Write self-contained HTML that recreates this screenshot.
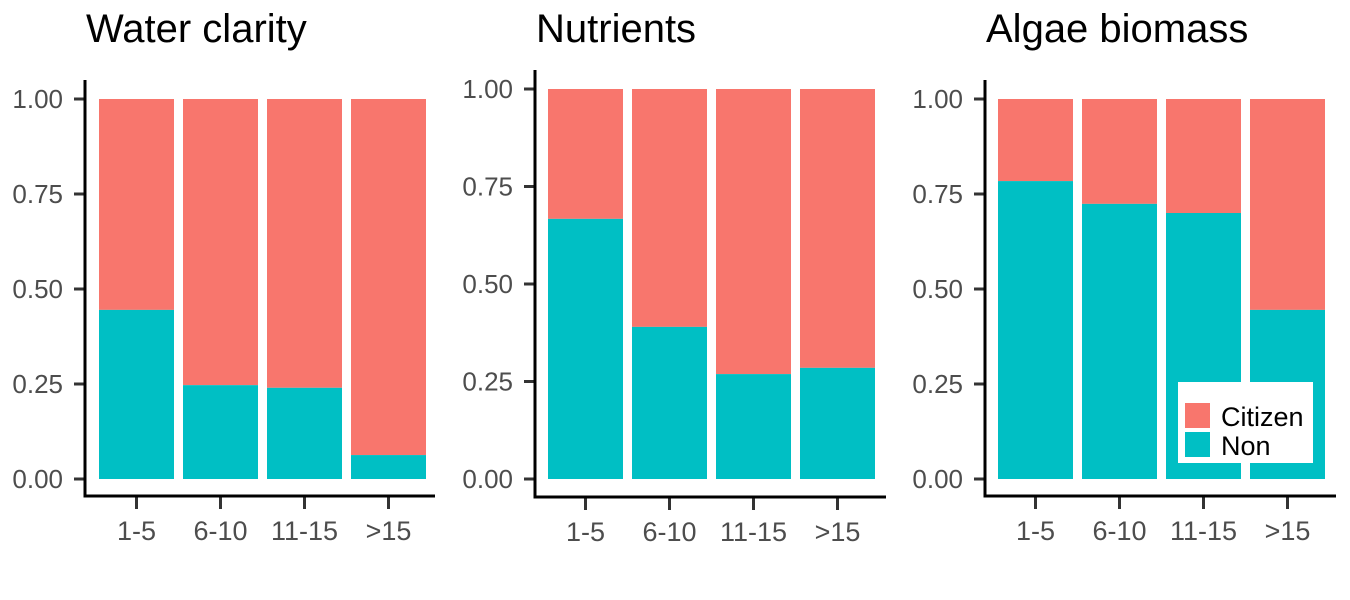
<!DOCTYPE html>
<html><head><meta charset="utf-8"><style>body{margin:0;background:#fff}svg{display:block}text{font-family:"Liberation Sans",sans-serif}</style></head>
<body>
<svg id="c" width="1350" height="600"></svg>
<script>
const categories = ["1-5","6-10","11-15",">15"];
const titles = ["Water clarity","Nutrients","Algae biomass"];
const nonWater = [0.445,0.247,0.240,0.063];
const nonNutrients = [0.667,0.390,0.269,0.285];
const nonAlgae = [0.784,0.724,0.700,0.445];
const yTicks = [0,0.25,0.5,0.75,1];
const yTickLabels = ["0.00","0.25","0.50","0.75","1.00"];
const NS="http://www.w3.org/2000/svg";
const svg=document.getElementById('c');
function el(t,a,p){const e=document.createElementNS(NS,t);for(const k in a)e.setAttribute(k,a[k]);(p||svg).appendChild(e);return e;}
const panels=[
 {vals:nonWater,ax:85,x0:99,y0:479,y1:99,axTop:80,axBot:496,xEnd:435,ty:42,tx:86},
 {vals:nonNutrients,ax:535,x0:548,y0:479,y1:89,axTop:70,axBot:497,xEnd:886,ty:42,tx:536},
 {vals:nonAlgae,ax:985,x0:998,y0:479,y1:99,axTop:80,axBot:496,xEnd:1336,ty:42,tx:986}
];
panels.forEach((p,pi)=>{
 const g=el('g',{});
 
 
 const y=v=>p.y0-(p.y0-p.y1)*v;
 const step=84, bw=75;
 const x=i=>p.x0+i*step;
 const t=el('text',{x:p.tx,y:p.ty,'font-size':40,fill:'#000'},g);t.textContent=titles[pi];
 
 
 p.vals.forEach((v,i)=>{
  const r1=el('rect',{x:x(i),y:y(1),width:bw,height:y(v)-y(1),fill:'#F8766D'},g);
  
  
  const r2=el('rect',{x:x(i),y:y(v),width:bw,height:y(0)-y(v),fill:'#00BFC4'},g);
  
  
  el('line',{x1:x(i)+bw/2,x2:x(i)+bw/2,y1:p.axBot,y2:p.axBot+13,stroke:'#333','stroke-width':3},g);
  const l=el('text',{x:x(i)+bw/2,y:p.axBot+44,'font-size':27,fill:'#4d4d4d','text-anchor':'middle'},g);l.textContent=categories[i];
  
  
 });
 yTicks.forEach((v,i)=>{
  el('line',{x1:p.ax-11,x2:p.ax,y1:y(v),y2:y(v),stroke:'#333','stroke-width':3},g);
  const l=el('text',{x:p.ax-22,y:y(v)+9,'font-size':26,fill:'#4d4d4d','text-anchor':'end'},g);l.textContent=yTickLabels[i];
  
  
 });
 el('line',{x1:p.ax,x2:p.ax,y1:p.axTop,y2:p.axBot+1.5,stroke:'#000','stroke-width':3},g);
 el('line',{x1:p.ax-1.5,x2:p.xEnd,y1:p.axBot,y2:p.axBot,stroke:'#000','stroke-width':3},g);
});
const lg=el('g',{});


el('rect',{x:1178,y:382,width:135,height:81,fill:'#fff'},lg);
el('rect',{x:1185,y:403,width:25,height:25,fill:'#F8766D'},lg);
el('rect',{x:1185,y:432,width:25,height:25,fill:'#00BFC4'},lg);
const t1=el('text',{x:1221,y:426,'font-size':27,fill:'#000'},lg);t1.textContent='Citizen';


const t2=el('text',{x:1221,y:455,'font-size':27,fill:'#000'},lg);t2.textContent='Non';


</script>
</body></html>
